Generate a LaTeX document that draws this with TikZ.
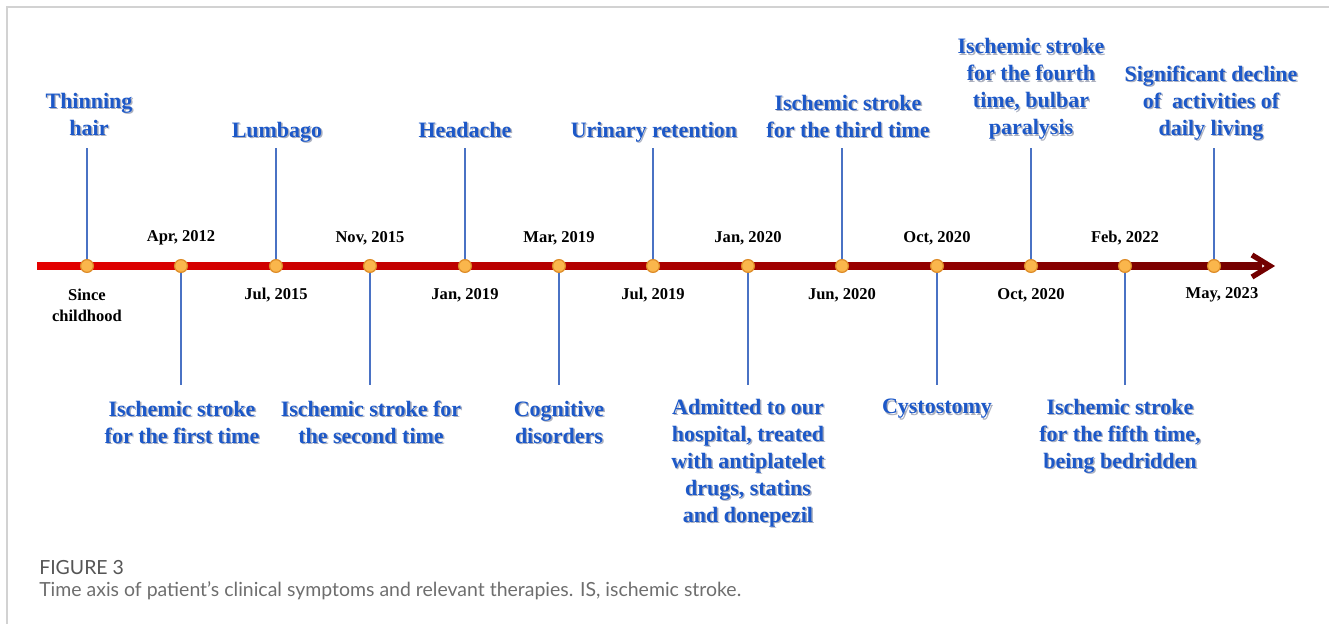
\documentclass[tikz,border=0pt]{standalone}
\usepackage{fontspec}
\setmainfont{Liberation Serif}
\newfontfamily\captionfont{Lato}

\definecolor{eventblue}{RGB}{28,88,200}
\definecolor{eventshade}{RGB}{170,175,190}
\definecolor{stemblue}{RGB}{74,114,196}
\definecolor{dotfill}{RGB}{250,182,76}
\definecolor{dotedge}{RGB}{222,140,40}
\definecolor{axisred}{RGB}{228,0,0}
\definecolor{axismid}{RGB}{200,0,0}
\definecolor{axisdark}{RGB}{115,0,0}
\definecolor{framegray}{RGB}{210,210,210}
\definecolor{capgray}{RGB}{110,110,110}
\definecolor{figgray}{RGB}{85,85,85}

\begin{document}
\begin{tikzpicture}[x=0.75pt,y=0.75pt,yscale=-1,xscale=1,
    dot/.style={circle,draw=dotedge,fill=dotfill,line width=0.9pt,minimum size=9.6pt,inner sep=0pt},
    stem/.style={draw=stemblue,line width=1.9pt},
    event/.style={text=eventblue,font=\fontsize{16.5}{20.25}\selectfont\bfseries,align=center,inner sep=0pt},
    date/.style={font=\fontsize{12.4}{15.75}\selectfont\bfseries,align=center,inner sep=0pt},
    caption/.style={anchor=west,inner sep=0pt,text=capgray,font=\captionfont\fontsize{14.6}{17}\selectfont}]
\useasboundingbox (0,0) rectangle (1329,624);

%Frame
\draw[framegray,line width=1.1pt] (7,624) -- (7,7) -- (1329,7);

%Axis with arrow head
\coordinate (start) at (37,266);
\coordinate (end) at (1262,266);
\shade[left color=axisred,middle color=axismid,right color=axisdark] (start) ++(0,-3) rectangle ([yshift=3]end);
\draw[axisdark,line width=4pt,line join=miter] (1252,255) -- (1270,266) -- (1252,277);

%Dots, odd ones point up, even ones down
\foreach \x [count=\i] in {87,181,276,370,465,559,653,748,842,937,1031,1125,1214}{
  \ifodd\i \coordinate (s\i) at (\x,148); \else \coordinate (s\i) at (\x,385); \fi
  \node[dot] (d\i) at (\x,266) {};
  \draw[stem] (d\i) -- (s\i);
}

% Text Node: events, each with a soft shadow behind it
\foreach \n/\x/\y/\txt in {
    e1/89/114/{Thinning\\hair},
    e3/277/132/{Lumbago},
    e5/465/130/{Headache},
    e7/654/132/{Urinary retention},
    e9/848/116/{Ischemic stroke\\for the third time},
    e11/1031/89/{Ischemic stroke\\for the fourth\\time, bulbar\\paralysis},
    e13/1211/103/{Significant decline\\of\ \ activities of\\daily living},
    e2/182/422/{Ischemic stroke\\for the first time},
    e4/371/422/{Ischemic stroke for\\the second time},
    e6/559/422/{Cognitive\\disorders},
    e8/748/463/{Admitted to our\\hospital, treated\\with antiplatelet\\drugs, statins\\and donepezil},
    e10/937/409/{Cystostomy},
    e12/1120/436/{Ischemic stroke\\for the fifth time,\\being bedridden}}{
  \node[event,text=eventshade] at (\x+1.4,\y+1.4) {\txt};
  \node[event] (\n) at (\x,\y) {\txt};
}

% Dates
\node[date] (t1) at (87,305) {Since\\childhood};
\node[date] (t2) at (181,238) {Apr, 2012};
\node[date] (t3) at (276,295) {Jul, 2015};
\node[date] (t4) at (370,238) {Nov, 2015};
\node[date] (t5) at (465,295) {Jan, 2019};
\node[date] (t6) at (559,238) {Mar, 2019};
\node[date] (t7) at (653,295) {Jul, 2019};
\node[date] (t8) at (748,238) {Jan, 2020};
\node[date] (t9) at (842,295) {Jun, 2020};
\node[date] (t10) at (937,238) {Oct, 2020};
\node[date] (t11) at (1031,295) {Oct, 2020};
\node[date] (t12) at (1125,238) {Feb, 2022};
\node[date] (t13) at (1222,295) {May, 2023};

%Caption
\node[caption,text=figgray] (fig) at (39,568) {FIGURE 3};
\node[caption] (cap) at (39,591) {Time axis of patient’s clinical symptoms and relevant therapies. IS, ischemic stroke.};

\end{tikzpicture}
\end{document}
